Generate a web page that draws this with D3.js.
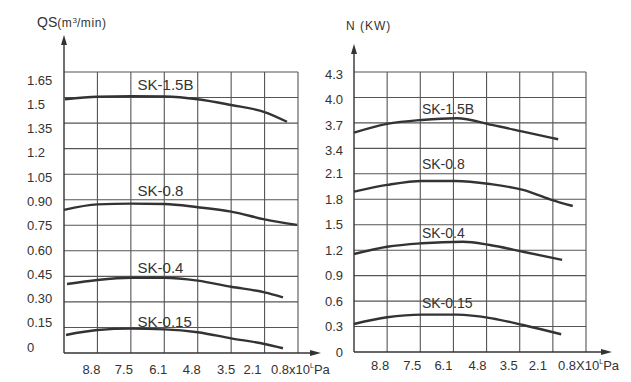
<!DOCTYPE html>
<html>
<head>
<meta charset="utf-8">
<script src="https://cdn.jsdelivr.net/npm/d3@7"></script>
<style>
    body { margin: 0; background: #fff; }
    text { font-family: "Liberation Sans", Arial, sans-serif; fill: #333; }
</style>
</head>
<body>
<svg id="chart" width="631" height="382"></svg>
<script>
// pressure tick labels (x10^L Pa), same on both panels
const pressureLabels = ["8.8", "7.5", "6.1", "4.8", "3.5", "2.1", "0.8"];

// left panel: QS (m3/min)
const qsTicks = [0, 0.15, 0.30, 0.45, 0.60, 0.75, 0.90, 1.05, 1.2, 1.35, 1.5, 1.65];
const qsTickLabels = ["0", "0.15", "0.30", "0.45", "0.60", "0.75", "0.90", "1.05", "1.2", "1.35", "1.5", "1.65"];

// right panel: N (KW), axis has a break between 2.1 and 3.4
const nTicks = [0, 0.3, 0.6, 0.9, 1.2, 1.5, 1.8, 2.1, 3.4, 3.7, 4.0, 4.3];
const nTickLabels = ["0", "0.3", "0.6", "0.9", "1.2", "1.5", "1.8", "2.1", "3.4", "3.7", "4.0", "4.3"];

const models = ["SK-1.5B", "SK-0.8", "SK-0.4", "SK-0.15"];

// x in grid steps from the y axis
const qsX = [
    [0.03, 1, 2, 3, 4, 5, 6, 6.67],
    [0, 1, 2, 3, 4, 5, 6, 6.97],
    [0.09, 1, 2, 3, 4, 5, 6, 6.55],
    [0.06, 1, 2, 3, 4, 5, 6, 6.55]
];
const qsY = [
    [1.49, 1.505, 1.508, 1.506, 1.49, 1.456, 1.415, 1.358],
    [0.84, 0.873, 0.877, 0.875, 0.856, 0.83, 0.785, 0.752],
    [0.405, 0.429, 0.442, 0.442, 0.425, 0.389, 0.356, 0.327],
    [0.106, 0.135, 0.143, 0.139, 0.122, 0.086, 0.053, 0.028]
];

const nX = [
    [0, 1, 2.05, 3.1, 4.16, 5.1, 6.16],
    [0, 1, 2.05, 3.07, 4.1, 5.1, 5.91, 6.6],
    [0, 1, 2.05, 3.29, 4.1, 5.1, 6.28],
    [0, 1, 2.05, 3.1, 4.16, 5.1, 6.25]
];
const nY = [
    [3.585, 3.688, 3.735, 3.755, 3.676, 3.597, 3.507],
    [1.89, 1.969, 2.016, 2.016, 1.98, 1.91, 1.80, 1.721],
    [1.155, 1.241, 1.282, 1.30, 1.261, 1.182, 1.085],
    [0.33, 0.409, 0.44, 0.44, 0.397, 0.318, 0.209]
];

const svg = d3.select("#chart");
const ink = "#333";
const gridCol = "#555";

function drawPanel(p) {
    const g = svg.append("g");

    const x = d3.scaleLinear().domain([0, 7]).range([p.left, p.right]);
    const row = d3.scaleLinear().domain([0, p.ticks.length - 1]).range([p.bottom, p.top]);

    // value scale, piecewise where the axis is broken
    const y = d3.scaleLinear()
        .domain(p.breaks)
        .range(p.breaks.map(v => row(p.ticks.indexOf(v))));

    // horizontal grid
    g.selectAll(".hg")
        .data(p.ticks.slice(1))
        .enter()
        .append("line")
        .attr("x1", p.left).attr("x2", p.right)
        .attr("y1", d => y(d)).attr("y2", d => y(d))
        .attr("stroke", gridCol).attr("stroke-width", 1.1);

    // vertical grid
    g.selectAll(".vg")
        .data(d3.range(1, 8))
        .enter()
        .append("line")
        .attr("x1", d => x(d)).attr("x2", d => x(d))
        .attr("y1", p.top).attr("y2", p.bottom)
        .attr("stroke", gridCol).attr("stroke-width", 1.1);

    // axes with arrows
    g.append("line")
        .attr("x1", p.left).attr("x2", p.left)
        .attr("y1", p.bottom).attr("y2", p.arrowTop + 6)
        .attr("stroke", ink).attr("stroke-width", 1.4);
    g.append("path")
        .attr("d", `M${p.left},${p.arrowTop} l-3,10 l6,0 z`)
        .attr("fill", ink);
    g.append("line")
        .attr("x1", p.left).attr("x2", p.arrowRight - 6)
        .attr("y1", p.bottom).attr("y2", p.bottom)
        .attr("stroke", ink).attr("stroke-width", 1.4);
    g.append("path")
        .attr("d", `M${p.arrowRight},${p.bottom} l-11,-3 l0,6 z`)
        .attr("fill", ink);

    // y tick labels
    g.selectAll(".yl")
        .data(p.ticks)
        .enter()
        .append("text")
        .attr("x", p.yLabelX)
        .attr("y", (d, i) => p.labelY(d, i, y))
        .attr("dy", "0.36em")
        .attr("text-anchor", p.yAnchor)
        .style("font-size", "13px")
        .text((d, i) => p.tickLabels[i]);

    // x tick labels
    const xl = g.selectAll(".xl")
        .data(pressureLabels)
        .enter()
        .append("text")
        .attr("x", (d, i) => x(i + 1) + p.xLabelShift[i])
        .attr("y", p.xLabelY)
        .attr("text-anchor", (d, i) => i === pressureLabels.length - 1 ? "start" : "middle")
        .style("font-size", "13px")
        .text(d => d);
    xl.filter((d, i) => i === pressureLabels.length - 1)
        .each(function() {
            const t = d3.select(this);
            t.append("tspan").text(p.times + "10");
            t.append("tspan").attr("dy", -6).style("font-size", "7px").text("L");
            t.append("tspan").attr("dy", 6).text("Pa");
        });

    // curves
    const line = d3.line()
        .x(d => x(d[0]))
        .y(d => y(d[1]))
        .curve(d3.curveMonotoneX);

    models.forEach((m, k) => {
        const pts = p.xs[k].map((v, j) => [v, p.ys[k][j]]);
        g.append("path")
            .attr("d", line(pts))
            .attr("fill", "none")
            .attr("stroke", ink)
            .attr("stroke-width", 2.4);

        const peak = d3.max(p.ys[k]);
        g.append("text")
            .attr("x", x(p.nameAt))
            .attr("y", y(peak) - p.lift[k])
            .style("font-size", p.nameSize)
            .attr("fill", ink)
            .text(m);
    });

    // axis title
    p.title(g);
}

drawPanel({
    left: 64, right: 298, top: 72, bottom: 353,
    arrowTop: 35, arrowRight: 321,
    ticks: qsTicks, tickLabels: qsTickLabels,
    breaks: [0, 1.65],
    yLabelX: 27, yAnchor: "start",
    labelY: (d, i, y) => d3.scaleLinear().domain([0, 1.65]).range([347, 80])(d),
    xLabelY: 374,
    xLabelShift: [-6, -7, -6, -6, -5, -12, -27],
    times: "x",
    xs: qsX, ys: qsY,
    nameAt: 2.2, nameSize: "15px",
    lift: [6, 8, 5, 2],
    title: g => {
        const t = g.append("text").attr("x", 37).attr("y", 27);
        t.append("tspan").style("font-size", "14px").text("QS");
        t.append("tspan").style("font-size", "12px").style("letter-spacing", "0.6px").text("(m");
        t.append("tspan").attr("dy", -4).style("font-size", "8px").text("3");
        t.append("tspan").attr("dy", 4).style("font-size", "12px").style("letter-spacing", "0.6px").text("/min)");
    }
});

drawPanel({
    left: 354, right: 586, top: 72, bottom: 352,
    arrowTop: 44, arrowRight: 612,
    ticks: nTicks, tickLabels: nTickLabels,
    breaks: [0, 2.1, 3.4, 4.3],
    yLabelX: 343, yAnchor: "end",
    labelY: (d, i, y) => y(d) + (i > 7 ? 2 : 0),
    xLabelY: 370,
    xLabelShift: [-7, -8, -10, -9, -11, -15, -28],
    times: "X",
    xs: nX, ys: nY,
    nameAt: 2.05, nameSize: "14px",
    lift: [4, 12, 4, 7],
    title: g => {
        g.append("text").attr("x", 346).attr("y", 30)
            .style("font-size", "12px")
            .style("letter-spacing", "1px")
            .text("N (KW)");
    }
});
</script>
</body>
</html>
